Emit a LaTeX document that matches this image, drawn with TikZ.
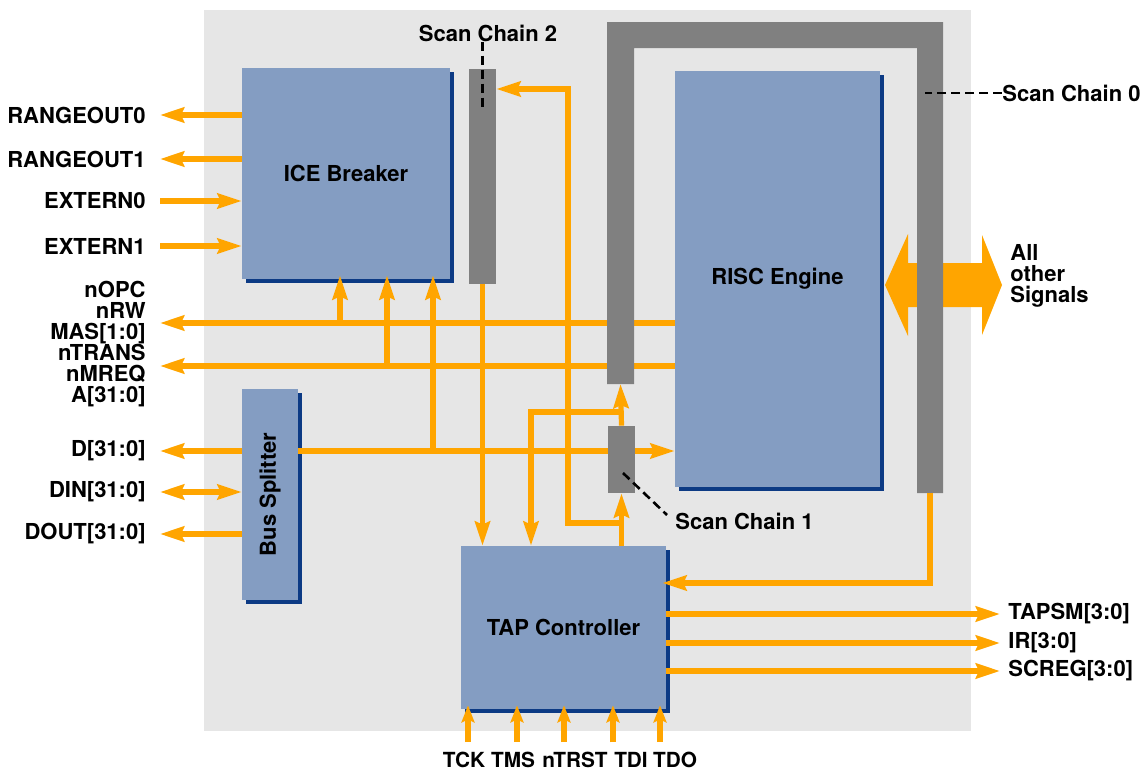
\documentclass[tikz,border=0pt]{standalone}
\usepackage{graphicx}
\usepackage{fontspec}
\setmainfont{TeX Gyre Heros}
\usetikzlibrary{arrows.meta,shadows}

\definecolor{blkblue}{RGB}{132,157,194}
\definecolor{blkshade}{RGB}{12,58,132}
\definecolor{sigorange}{RGB}{255,165,0}
\definecolor{chaingray}{RGB}{128,128,128}
\definecolor{diegray}{RGB}{230,230,230}

\begin{document}
\begin{tikzpicture}[x=0.5pt, y=-0.5pt, >={Stealth[length=12pt,width=7.5pt,inset=1.5pt]},
  block/.style={fill=blkblue, inner sep=0pt, font=\bfseries\fontsize{11}{12}\selectfont,
    drop shadow={shadow xshift=2pt, shadow yshift=-2pt, fill=blkshade, opacity=1}},
  chain/.style={fill=chaingray, inner sep=0pt},
  sig/.style={sigorange, line width=2.6pt},
  pin/.style={sigorange, line width=2.6pt, -{Stealth[length=8.5pt,width=6.5pt,inset=1.5pt]}},
  lead/.style={black, line width=1.3pt, dash pattern=on 4.5pt off 2.5pt},
  lbl/.style={font=\bfseries\fontsize{11}{10.5}\selectfont, inner sep=0pt}]
  \useasboundingbox (0,0) rectangle (1141,771);

  % die area
  \fill[diegray] (204,10) rectangle (971,731);

  % blocks
  \node[block, minimum width=104pt, minimum height=105.5pt] (ice) at (346,173.5) {ICE Breaker};
  \node[block, minimum width=102.5pt, minimum height=208pt] (risc) at (777.5,279) {RISC Engine};
  \node[block, minimum width=102.5pt, minimum height=81.5pt] (tap) at (563.5,627.5) {TAP Controller};
  \node[block, minimum width=28pt, minimum height=105.5pt] (bus) at (270,494.5) {\rotatebox{90}{Bus Splitter}};
  \node[chain, minimum width=13.5pt, minimum height=107.5pt] (sc2) at (482.5,176.5) {};

  % pin labels, left
  \node[lbl, anchor=east, inner xsep=7pt] (rng0) at (160,115) {RANGEOUT0};
  \node[lbl, anchor=east, inner xsep=7pt] (rng1) at (160,159) {RANGEOUT1};
  \node[lbl, anchor=east, inner xsep=7pt] (ext0) at (160,201) {EXTERN0};
  \node[lbl, anchor=east, inner xsep=7pt] (ext1) at (160,246) {EXTERN1};
  \node[lbl, anchor=east, inner xsep=7pt, align=right] (addr) at (160,344.5)
    {nOPC\\nRW\\MAS[1:0]\\nTRANS\\nMREQ\\A[31:0]};
  \node[lbl, anchor=east, inner xsep=7pt] (dbus) at (160,451) {D[31:0]};
  \node[lbl, anchor=east, inner xsep=7pt] (din) at (160,492) {DIN[31:0]};
  \node[lbl, anchor=east, inner xsep=7pt] (dout) at (160,534) {DOUT[31:0]};

  % pin labels, right and bottom
  \node[lbl, anchor=west, inner xsep=4pt] (tapsm) at (1000,614) {TAPSM[3:0]};
  \node[lbl, anchor=west, inner xsep=4pt] (irreg) at (1000,643) {IR[3:0]};
  \node[lbl, anchor=west, inner xsep=4pt] (screg) at (1000,671) {SCREG[3:0]};
  \node[lbl, anchor=west, align=left] (other) at (1010,276) {All\\other\\Signals};
  \foreach \n/\x/\t in {tck/464/TCK, tms/513/TMS, ntrst/575/nTRST, tdi/631/TDI, tdo/675/TDO}
    \node[lbl, font=\bfseries\fontsize{10.4}{12}\selectfont, anchor=base, inner ysep=4.5pt]
      (\n) at (\x,767) {\t};

  % ICE Breaker pins
  \draw[sig,->] (ice.west |- rng0.east) -- (rng0.east);
  \draw[sig,->] (ice.west |- rng1.east) -- (rng1.east);
  \draw[sig,->] (ext0.east) -- (ice.west |- ext0.east);
  \draw[sig,->] (ext1.east) -- (ice.west |- ext1.east);

  % buses
  \fill[sigorange] (885,285) -- (908,234) -- (908,263) -- (982,263) -- (982,235)
    -- (1002,285) -- (982,335) -- (982,307) -- (908,307) -- (908,336) -- cycle;
  \draw[sig,->] (risc.west |- 0,323) -- (addr.east |- 0,323);
  \draw[sig,->] (risc.west |- 0,366) -- (addr.east |- 0,366);
  \draw[sig,->] (bus.west |- dbus.east) -- (dbus.east);
  \draw[sig,->] (bus.east |- dbus.east) -- (risc.west |- dbus.east);
  \draw[sig,<->] (din.east) -- (bus.west |- din.east);
  \draw[sig,->] (bus.west |- dout.east) -- (dout.east);
  \draw[sig,->, shorten >=-2pt] (340,323) -- (ice.south -| 340,0);
  \draw[sig,->, shorten >=-2pt] (387,366) -- (ice.south -| 387,0);
  \draw[sig,->, shorten >=-2pt] (433,451) -- (ice.south -| 433,0);
  \draw[sig,->] (sc2.south) -- (tap.north -| sc2.south);

  % scan chain 0 and 1
  \fill[chaingray] (607,22) -- (943,22) -- (943,493) -- (917,493) -- (917,48)
    -- (634,48) -- (634,384) -- (607,384) -- cycle;
  \coordinate (sc0a) at (620.5,384);
  \coordinate (sc0b) at (930,493);
  \coordinate (sc0tip) at (925,93);
  \node[chain, minimum width=13.5pt, minimum height=33.5pt] (sc1) at (621.5,459.5) {};

  \draw[sig,->] (sc1.south |- tap.north) -- (sc1.south);
  \draw[sig,->] (sc1.north) -- (sc0a);
  \draw[sig,->] (sc1.north |- 0,412) -| (tap.north -| 531,0);
  \draw[sig,->] (sc1.south |- 0,523) -| (568,89) -- (sc2.east |- 0,89);
  \draw[sig,->, shorten >=-2pt] (sc0b) |- (tap.east |- 0,583);

  % TAP pins
  \draw[sig,->] (tap.east |- tapsm.west) -- (tapsm.west);
  \draw[sig,->] (tap.east |- irreg.west) -- (irreg.west);
  \draw[sig,->] (tap.east |- screg.west) -- (screg.west);
  \foreach \n/\x in {tck/468, tms/517, ntrst/564, tdi/613, tdo/660}
    \draw[pin, shorten >=-2pt] (\n.north -| \x,0) -- (tap.south -| \x,0);

  % scan chain labels
  \node[lbl] (sc2lbl) at (488,33) {Scan Chain 2};
  \draw[lead] (sc2lbl.south -| sc2.north) -- ([yshift=-20.5pt]sc2.north);
  \node[lbl, anchor=west] (sc0lbl) at (1002,93) {Scan Chain 0};
  \draw[lead] (sc0lbl.west) -- (sc0tip);
  \node[lbl, anchor=west] (sc1lbl) at (675,521) {Scan Chain 1};
  \draw[lead] ([shift={(0.75pt,-6.75pt)}]sc1.center) -- ([shift={(-4pt,3pt)}]sc1lbl.west);
\end{tikzpicture}
\end{document}
